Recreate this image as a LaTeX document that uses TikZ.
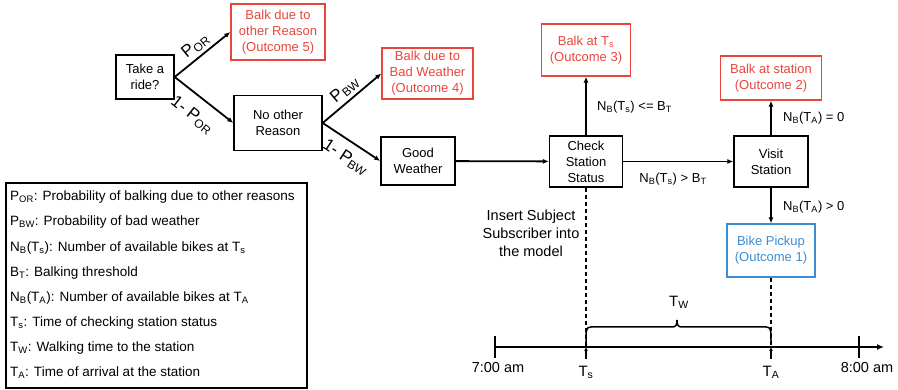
\documentclass[tikz,border=0pt]{standalone}
\usepackage{fontspec}
\setmainfont{Liberation Sans}
\usetikzlibrary{arrows.meta}
\definecolor{myred}{RGB}{232,70,60}
\definecolor{myblue}{RGB}{60,140,210}
\newcommand\sbs[1]{\textsubscript{#1}}
\begin{document}
\begin{tikzpicture}[x=1pt,y=-1pt,
  box/.style={draw, line width=1.4pt, align=center, inner sep=1pt, font=\fontsize{13}{16}\selectfont},
  redbox/.style={box, draw=myred, text=myred},
  bluebox/.style={box, draw=myblue, text=myblue},
  arr/.style={-{Latex[length=6pt,width=5pt]}, line width=1.8pt},
  lbl/.style={font=\fontsize{13}{15}\selectfont, inner sep=1pt},
  tlbl/.style={font=\fontsize{17}{19}\selectfont, inner sep=2pt},
  leg/.style={anchor=west, font=\fontsize{13.5}{15}\selectfont, inner sep=0pt},
  dashln/.style={line width=1.1pt, dash pattern=on 4pt off 3pt},
]
\useasboundingbox (0,0) rectangle (898,390);

% boxes
\node[box, minimum width=58, minimum height=44] (take) at (145,77) {Take a\\ride?};
\node[redbox, minimum width=94, minimum height=56] (bo5) at (278,32) {Balk due to\\other Reason\\(Outcome 5)};
\node[box, minimum width=88, minimum height=55] (noother) at (278,123) {No other\\Reason};
\node[redbox, minimum width=91, minimum height=51] (bo4) at (427.5,73.5) {Balk due to\\Bad Weather\\(Outcome 4)};
\node[box, minimum width=74, minimum height=48] (good) at (418,161) {Good\\Weather};
\node[box, minimum width=73, minimum height=51] (check) at (586,161.5) {Check\\Station\\Status};
\node[redbox, minimum width=89, minimum height=52] (bo3) at (586,50) {Balk at T\sbs{s}\\(Outcome 3)};
\node[box, minimum width=74, minimum height=51] (visit) at (771,161.5) {Visit\\Station};
\node[redbox, minimum width=101, minimum height=44] (bo2) at (771,78) {Balk at station\\(Outcome 2)};
\node[bluebox, minimum width=88, minimum height=53] (bike) at (771,250.5) {Bike Pickup\\(Outcome 1)};

% tree edges
\draw[arr] (take.east) -- (bo5.west) node[midway, sloped, above=1pt, tlbl] (l1) {P\sbs{OR}};
\draw[arr] (take.east) -- (noother.west) node[midway, sloped, below=9pt, tlbl] (l2) {1- P\sbs{OR}};
\draw[arr] (noother.east) -- (bo4.west) node[midway, sloped, above=1pt, tlbl] (l3) {P\sbs{BW}};
\draw[arr] (noother.east) -- (good.west) node[pos=0.55, sloped, below=6pt, tlbl] (l4) {1- P\sbs{BW}};
\draw[arr] (good) -- (check);
\draw[arr] (check.north) -- (bo3.south);
\draw[arr] (check) -- (visit);
\draw[arr] (visit.north) -- (bo2.south);
\draw[arr] (visit.south) -- (bike.north);

% edge labels
\node[lbl, anchor=west] (c1) at (596,107) {N\sbs{B}(T\sbs{s}) <= B\sbs{T}};
\node[lbl] (c2) at (673,179) {N\sbs{B}(T\sbs{s}) > B\sbs{T}};
\node[lbl, anchor=west] (c3) at (782,118) {N\sbs{B}(T\sbs{A}) = 0};
\node[lbl, anchor=west] (c4) at (782,207) {N\sbs{B}(T\sbs{A}) > 0};

\node[lbl, align=center, font=\fontsize{14.5}{18}\selectfont] (ins) at (531,233) {Insert Subject\\Subscriber into\\the model};

% timeline
\coordinate (t0) at (495,347);
\coordinate (tend) at (884,347);
\coordinate (ts) at (586,347);
\coordinate (ta) at (771,347);
\draw[-{Latex[length=7pt,width=6pt]}, line width=1.8pt] (t0) -- (tend);
\draw[line width=1.8pt] (495,336) -- (495,358);
\draw[line width=1.8pt] (859,336) -- (859,358);
\draw[-{Latex[length=4pt,width=4pt]}, line width=1.5pt] (586,359) -- (ts);
\draw[-{Latex[length=4pt,width=4pt]}, line width=1.5pt] (771,359) -- (ta);
\draw[dashln] (check.south) -- (ts);
\draw[dashln] (bike.south) -- (ta);
% brace
\draw[line width=1.5pt] (586,342) .. controls (586,330) and (586,327) .. (591,327) -- (672,327)
  .. controls (676,327) and (677,325) .. (677,320) .. controls (677,325) and (678,327) .. (682,327)
  -- (766,327) .. controls (771,327) and (771,330) .. (771,342);
\node[lbl, font=\fontsize{15}{17}\selectfont] (tw) at (679,302) {T\sbs{W}};

\node[lbl, font=\fontsize{14.5}{16}\selectfont] (l700) at (498,368) {7:00 am};
\node[lbl, font=\fontsize{14.5}{16}\selectfont] (l800) at (867,368) {8:00 am};
\node[lbl, font=\fontsize{15}{17}\selectfont] (lts) at (586,372) {T\sbs{s}};
\node[lbl, font=\fontsize{15}{17}\selectfont] (lta) at (771,372) {T\sbs{A}};

% legend
\node[draw, line width=1.4pt, minimum width=301, minimum height=205, inner sep=0pt] (legend) at (156.5,285.5) {};
\node[leg] (g1) at (10,197) {P\sbs{OR}: Probability of balking due to other reasons};
\node[leg] (g2) at (10,222) {P\sbs{BW}: Probability of bad weather};
\node[leg] (g3) at (10,248) {N\sbs{B}(T\sbs{s}): Number of available bikes at T\sbs{s}};
\node[leg] (g4) at (10,273) {B\sbs{T}: Balking threshold};
\node[leg] (g5) at (10,298) {N\sbs{B}(T\sbs{A}): Number of available bikes at T\sbs{A}};
\node[leg] (g6) at (10,323) {T\sbs{s}: Time of checking station status};
\node[leg] (g7) at (10,348) {T\sbs{W}: Walking time to the station};
\node[leg] (g8) at (10,373) {T\sbs{A}: Time of arrival at the station};
\end{tikzpicture}
\end{document}
